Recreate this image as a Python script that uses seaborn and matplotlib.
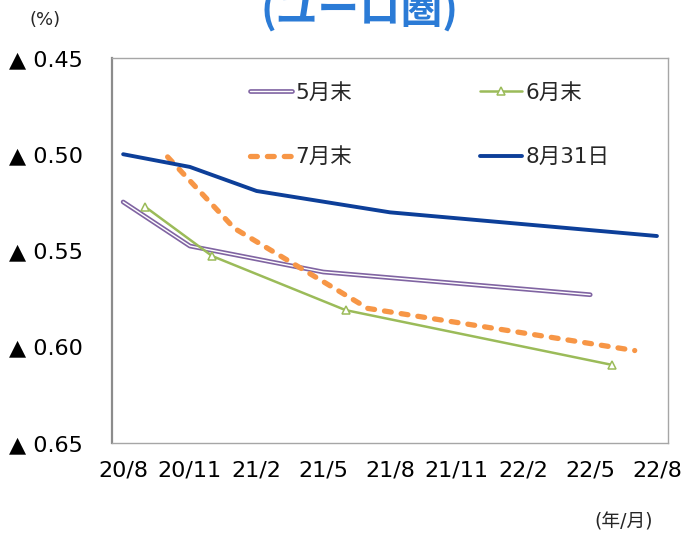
import matplotlib
matplotlib.use("Agg")
import matplotlib.pyplot as plt
import matplotlib.patheffects as pe
import pandas as pd
import seaborn as sns

# ==========================
# DADOS (meses a partir de 20/8)
# ==========================

TICK_MONTHS = [0, 3, 6, 9, 12, 15, 18, 21, 24]
TICK_LABELS = ["20/8", "20/11", "21/2", "21/5", "21/8", "21/11", "22/2", "22/5", "22/8"]

MAY_X = [0, 3, 9, 21]
MAY_Y = [-0.5248, -0.5477, -0.5612, -0.5730]

JUN_X = [1, 4, 10, 22]
JUN_Y = [-0.5274, -0.5529, -0.5810, -0.6095]

JUL_X = [2, 5, 11, 23]
JUL_Y = [-0.5014, -0.5385, -0.5801, -0.6020]

AUG_X = [0, 3, 6, 12, 24]
AUG_Y = [-0.5000, -0.5066, -0.5191, -0.5302, -0.5425]

Y_TICKS = [-0.45, -0.50, -0.55, -0.60, -0.65]

# ==========================
# CONFIGURAÇÕES
# ==========================

sns.set_style("white")
plt.rcParams["font.family"] = ["DejaVu Sans", "Noto Sans CJK JP"]

fig = plt.figure(figsize=(6.81, 5.33), dpi=100)
ax = fig.add_axes([0.1645, 0.169, 0.8165, 0.7222])


def serie(x, y):
    return pd.DataFrame({"mes": x, "taxa": y})


# 5月末 - linha dupla roxa
sns.lineplot(
    data=serie(MAY_X, MAY_Y), x="mes", y="taxa", ax=ax,
    color="white", lw=1.0, label="5月末",
    path_effects=[pe.Stroke(linewidth=3.4, foreground="#8064a2"), pe.Normal()],
)

# 6月末 - verde com triângulos
sns.lineplot(
    data=serie(JUN_X, JUN_Y), x="mes", y="taxa", ax=ax,
    color="#9bbb59", lw=1.8, marker="^", markersize=6,
    markerfacecolor="white", markeredgecolor="#9bbb59", markeredgewidth=1.1,
    label="6月末",
)

# 7月末 - laranja tracejada
linha7 = sns.lineplot(
    data=serie(JUL_X, JUL_Y), x="mes", y="taxa", ax=ax,
    color="#f79646", lw=3.8, label="7月末",
).lines[-1]
linha7.set_dashes((1.3, 1.9))
linha7.set_dash_capstyle("round")

# 8月31日 - azul escuro
sns.lineplot(
    data=serie(AUG_X, AUG_Y), x="mes", y="taxa", ax=ax,
    color="#0d3f99", lw=2.8, label="8月31日",
)

# ==========================
# EIXOS
# ==========================

ax.set_xlim(-0.5, 24.5)
ax.set_ylim(-0.65, -0.45)
ax.set_xticks(TICK_MONTHS)
ax.set_xticklabels(TICK_LABELS)
ax.set_yticks(Y_TICKS)
ax.set_yticklabels([f"▲ {abs(v):.2f}" for v in Y_TICKS])
ax.set_xlabel("")
ax.set_ylabel("")

ax.tick_params(axis="x", length=0, pad=13, labelsize=16, colors="black")
ax.tick_params(axis="y", direction="in", length=6, width=1, color="#8c8c8c",
               pad=21, labelsize=16, labelcolor="black")

for lado, sp in ax.spines.items():
    sp.set_color("#a6a6a6")
    sp.set_linewidth(1.0)
ax.spines["left"].set_color("#8c8c8c")
ax.spines["left"].set_linewidth(1.6)

# legenda: linha 1 = 5月末, 6月末 ; linha 2 = 7月末, 8月31日
handles, labels = ax.get_legend_handles_labels()
ordem = [0, 2, 1, 3]
ax.legend(
    [handles[i] for i in ordem], [labels[i] for i in ordem],
    ncol=2, loc="upper left", frameon=False,
    bbox_to_anchor=(250 / 681, 1 - 83 / 533), bbox_transform=fig.transFigure,
    borderaxespad=0, borderpad=0, handlelength=1.95, handletextpad=0.15,
    columnspacing=5.95, labelspacing=2.05, fontsize=15.5,
)

# ==========================
# TEXTOS
# ==========================

fig.text(45 / 681, 1 - 20 / 533, "(%)", ha="center", va="center", fontsize=13)
fig.text(624 / 681, 1 - 522 / 533, "(年/月)", ha="center", va="center", fontsize=13.5)
fig.text(360 / 681, 1 - 24 / 533, "(ユーロ圏)", ha="center", va="baseline",
         fontsize=30, fontweight="bold", color="#2b7bd6",
         family=["Noto Sans CJK JP"])

fig.savefig("out.png", dpi=100)
